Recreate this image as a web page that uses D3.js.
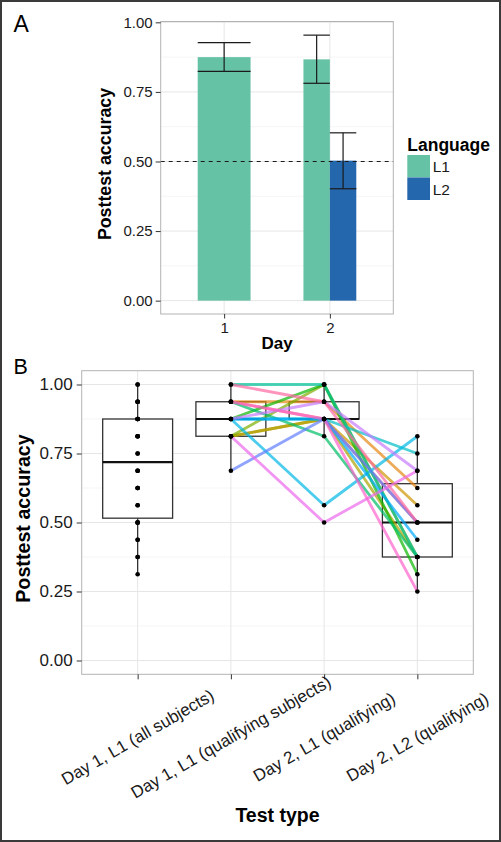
<!DOCTYPE html>
<html>
<head>
<meta charset="utf-8">
<script src="https://cdn.jsdelivr.net/npm/d3@7"></script>
<style>
  html, body { margin: 0; padding: 0; background: #fff; }
  svg { display: block; font-family: "Liberation Sans", Arial, Helvetica, sans-serif; }
</style>
</head>
<body>
<svg id="chart" width="501" height="842"></svg>
<script>
// ---------------- Panel A data ----------------
const days = ["1", "2"];
const languages = ["L1", "L2"];
const languageColors = ["#66C2A5", "#2467AD"];
const barDay = ["1", "2", "2"];
const barLang = ["L1", "L1", "L2"];
const barMean = [0.875, 0.867, 0.503];
const barLow = [0.824, 0.781, 0.402];
const barHigh = [0.927, 0.954, 0.603];
const yTicksA = [0, 0.25, 0.5, 0.75, 1.0];
const yMinorA = [0.125, 0.375, 0.625, 0.875];
const chanceLevel = 0.5;

// ---------------- Panel B data ----------------
const testTypes = [
  "Day 1, L1 (all subjects)",
  "Day 1, L1 (qualifying subjects)",
  "Day 2, L1 (qualifying)",
  "Day 2, L2 (qualifying)"
];
// Day 1 L1 accuracy, all subjects
const allDay1 = [
  0.9375, 0.9375, 0.8125, 0.8125, 0.8125, 0.875, 0.9375, 1.0,
  0.875, 0.875, 0.875, 0.6875, 0.875, 0.8125, 0.9375, 1.0,
  0.75, 0.75, 0.3125, 0.375, 0.375, 0.4375, 0.4375, 0.5, 0.5, 0.5, 0.5,
  0.5625, 0.5625, 0.625, 0.625, 0.625, 0.6875, 0.6875
];
// qualifying subjects (one entry per subject)
const qualDay1   = [0.9375, 0.9375, 0.8125, 0.8125, 0.8125, 0.875, 0.9375, 1.0, 0.875, 0.875, 0.875, 0.6875, 0.875, 0.8125, 0.9375, 1.0];
const qualDay2L1 = [0.875, 0.9375, 0.875, 0.875, 1.0, 1.0, 0.8125, 1.0, 0.875, 0.5625, 0.875, 0.875, 0.9375, 0.5, 0.875, 0.9375];
const qualDay2L2 = [0.5, 0.625, 0.5625, 0.375, 0.375, 0.3125, 0.375, 0.375, 0.75, 0.8125, 0.4375, 0.5, 0.6875, 0.6875, 0.25, 0.5];
const subjectColors = ["#F8766D", "#E68613", "#CD9600", "#ABA300", "#7CAE00", "#0CB702", "#00BE67", "#00C19A",
                       "#00BFC4", "#00B8E7", "#00A9FF", "#5F7DFF", "#C77CFF", "#ED68ED", "#FF61CC", "#FF68A1"];
const yTicksB = [0, 0.25, 0.5, 0.75, 1.0];
const yMinorB = [0.125, 0.375, 0.625, 0.875];

const FONT = '"Liberation Sans", Arial, Helvetica, sans-serif';
const svg = d3.select("#chart");
const fmt = d3.format(".2f");
const TXT = "#1a1a1a";
const GRID_MAJOR = "#e6e6e6";
const GRID_MINOR = "#f5f5f5";
const BORDER = "#b3b3b3";

svg.append("rect").attr("x", 0).attr("y", 0).attr("width", 501).attr("height", 842).attr("fill", "#fff");

// ================= Panel A =================
const pA = { left: 160.7, right: 393.3, top: 21.5, bottom: 314 };
const xA = d3.scalePoint().domain(days).range([pA.left, pA.right]).padding(0.6);
const yA = d3.scaleLinear().domain([-0.048, 1.003]).range([pA.bottom, pA.top]);
const gA = svg.append("g");

gA.selectAll(".minA").data(yMinorA).join("line")
  .attr("x1", pA.left).attr("x2", pA.right).attr("y1", d => yA(d)).attr("y2", d => yA(d))
  .attr("stroke", GRID_MINOR).attr("stroke-width", 1);
gA.selectAll(".majA").data(yTicksA).join("line")
  .attr("x1", pA.left).attr("x2", pA.right).attr("y1", d => yA(d)).attr("y2", d => yA(d))
  .attr("stroke", GRID_MAJOR).attr("stroke-width", 1);
gA.selectAll(".vA").data(days).join("line")
  .attr("x1", d => xA(d)).attr("x2", d => xA(d)).attr("y1", pA.top).attr("y2", pA.bottom)
  .attr("stroke", GRID_MAJOR).attr("stroke-width", 1);

const barWidthA = 0.5 * xA.step();
const bars = barMean.map((m, i) => {
  const sameDay = barDay.filter(d => d === barDay[i]).length;
  const k = barDay.slice(0, i).filter(d => d === barDay[i]).length;
  const w = barWidthA / sameDay;
  const x0 = xA(barDay[i]) - barWidthA / 2 + k * w;
  return { x0, w, mean: m, lo: barLow[i], hi: barHigh[i], lang: barLang[i] };
});
const colA = d3.scaleOrdinal().domain(languages).range(languageColors);

gA.selectAll(".bar").data(bars).join("rect")
  .attr("x", d => d.x0).attr("width", d => d.w)
  .attr("y", d => yA(d.mean)).attr("height", d => yA(0) - yA(d.mean))
  .attr("fill", d => colA(d.lang));

const eb = gA.selectAll(".eb").data(bars).join("g").attr("stroke", "#1a1a1a").attr("stroke-width", 1.2);
eb.append("line").attr("x1", d => d.x0 + d.w / 2).attr("x2", d => d.x0 + d.w / 2)
  .attr("y1", d => yA(d.lo)).attr("y2", d => yA(d.hi));
eb.append("line").attr("x1", d => d.x0).attr("x2", d => d.x0 + d.w)
  .attr("y1", d => yA(d.lo)).attr("y2", d => yA(d.lo));
eb.append("line").attr("x1", d => d.x0).attr("x2", d => d.x0 + d.w)
  .attr("y1", d => yA(d.hi)).attr("y2", d => yA(d.hi));

gA.append("line").attr("x1", pA.left).attr("x2", pA.right)
  .attr("y1", yA(chanceLevel)).attr("y2", yA(chanceLevel))
  .attr("stroke", "#1a1a1a").attr("stroke-width", 1).attr("stroke-dasharray", "4,4");

gA.append("rect").attr("x", pA.left).attr("y", pA.top)
  .attr("width", pA.right - pA.left).attr("height", pA.bottom - pA.top)
  .attr("fill", "none").attr("stroke", BORDER).attr("stroke-width", 1);

const axYA = gA.append("g").attr("transform", `translate(${pA.left},0)`)
  .call(d3.axisLeft(yA).tickValues(yTicksA).tickFormat(fmt).tickSize(5).tickPadding(3))
  .attr("font-family", FONT).attr("font-size", 15);
axYA.select(".domain").remove();
axYA.selectAll(".tick line").attr("stroke", "#333");
axYA.selectAll(".tick text").attr("fill", TXT);

const axXA = gA.append("g").attr("transform", `translate(0,${pA.bottom})`)
  .call(d3.axisBottom(xA).tickSize(4.5).tickPadding(4))
  .attr("font-family", FONT).attr("font-size", 15);
axXA.select(".domain").remove();
axXA.selectAll(".tick line").attr("stroke", "#333");
axXA.selectAll(".tick text").attr("fill", TXT);

gA.append("text").attr("transform", "translate(111.2,164) rotate(-90)")
  .attr("text-anchor", "middle").attr("font-size", 17.8).attr("font-weight", "bold").attr("fill", "#000")
  .text("Posttest accuracy");
gA.append("text").attr("x", (pA.left + pA.right) / 2).attr("y", 349)
  .attr("text-anchor", "middle").attr("font-size", 17).attr("font-weight", "bold").attr("fill", "#000")
  .text("Day");
gA.append("text").attr("x", 13.5).attr("y", 31.7).attr("font-size", 23).attr("fill", "#000").text("A");

// legend
const lg = gA.append("g");
lg.append("text").attr("x", 407.3).attr("y", 150.5).attr("font-size", 17.5).attr("font-weight", "bold")
  .attr("fill", "#000").text("Language");
lg.selectAll(".key").data(languages).join("rect")
  .attr("x", 407.3).attr("y", (d, i) => 155 + i * 22.5).attr("width", 22.7).attr("height", 22.5)
  .attr("fill", d => colA(d));
lg.selectAll(".klab").data(languages).join("text")
  .attr("x", 432.7).attr("y", (d, i) => 172.3 + i * 22.3).attr("font-size", 15.5).attr("fill", TXT)
  .text(d => d);

// ================= Panel B =================
const pB = { left: 81.7, right: 473.3, top: 370.7, bottom: 674.3 };
const xB = d3.scalePoint().domain(testTypes).range([pB.left, pB.right]).padding(0.6);
const yB = d3.scaleLinear().domain([-0.05, 1.05]).range([pB.bottom, pB.top]);
const gB = svg.append("g");

gB.selectAll(".minB").data(yMinorB).join("line")
  .attr("x1", pB.left).attr("x2", pB.right).attr("y1", d => yB(d)).attr("y2", d => yB(d))
  .attr("stroke", GRID_MINOR).attr("stroke-width", 1);
gB.selectAll(".majB").data(yTicksB).join("line")
  .attr("x1", pB.left).attr("x2", pB.right).attr("y1", d => yB(d)).attr("y2", d => yB(d))
  .attr("stroke", GRID_MAJOR).attr("stroke-width", 1);
gB.selectAll(".vB").data(testTypes).join("line")
  .attr("x1", d => xB(d)).attr("x2", d => xB(d)).attr("y1", pB.top).attr("y2", pB.bottom)
  .attr("stroke", GRID_MAJOR).attr("stroke-width", 1);

const groups = [allDay1, qualDay1, qualDay2L1, qualDay2L2];
function boxStats(vals) {
  const s = vals.slice().sort(d3.ascending);
  const q1 = d3.quantile(s, 0.25), med = d3.quantile(s, 0.5), q3 = d3.quantile(s, 0.75);
  const iqr = q3 - q1;
  const lo = d3.min(s.filter(v => v >= q1 - 1.5 * iqr));
  const hi = d3.max(s.filter(v => v <= q3 + 1.5 * iqr));
  return { q1, med, q3, lo, hi };
}
const boxW = 0.75 * xB.step();
const boxes = groups.map((vals, i) => ({ cat: testTypes[i], ...boxStats(vals) }));

const bx = gB.selectAll(".box").data(boxes).join("g");
bx.append("line").attr("x1", d => xB(d.cat)).attr("x2", d => xB(d.cat))
  .attr("y1", d => yB(d.q3)).attr("y2", d => yB(d.hi)).attr("stroke", "#333").attr("stroke-width", 1.3);
bx.append("line").attr("x1", d => xB(d.cat)).attr("x2", d => xB(d.cat))
  .attr("y1", d => yB(d.q1)).attr("y2", d => yB(d.lo)).attr("stroke", "#333").attr("stroke-width", 1.3);
bx.append("rect").attr("x", d => xB(d.cat) - boxW / 2).attr("width", boxW)
  .attr("y", d => yB(d.q3)).attr("height", d => yB(d.q1) - yB(d.q3))
  .attr("fill", "#fff").attr("stroke", "#333").attr("stroke-width", 1.3);
bx.append("line").attr("x1", d => xB(d.cat) - boxW / 2).attr("x2", d => xB(d.cat) + boxW / 2)
  .attr("y1", d => yB(d.med)).attr("y2", d => yB(d.med)).attr("stroke", "#111").attr("stroke-width", 2.2);

// subject lines
const subjects = qualDay1.map((v, i) => ({
  color: subjectColors[i],
  pts: [[testTypes[1], v], [testTypes[2], qualDay2L1[i]], [testTypes[3], qualDay2L2[i]]]
}));
const line = d3.line().x(d => xB(d[0])).y(d => yB(d[1]));
gB.selectAll(".subj").data(subjects).join("path")
  .attr("d", d => line(d.pts)).attr("fill", "none")
  .attr("stroke", d => d.color).attr("stroke-width", 2.8).attr("stroke-opacity", 0.7)
  .attr("stroke-linejoin", "round");

// points
const pts = groups.flatMap((vals, i) => vals.map(v => ({ cat: testTypes[i], v })));
gB.selectAll(".pt").data(pts).join("circle")
  .attr("cx", d => xB(d.cat)).attr("cy", d => yB(d.v)).attr("r", 2.3).attr("fill", "#000");

gB.append("rect").attr("x", pB.left).attr("y", pB.top)
  .attr("width", pB.right - pB.left).attr("height", pB.bottom - pB.top)
  .attr("fill", "none").attr("stroke", BORDER).attr("stroke-width", 1);

const axYB = gB.append("g").attr("transform", `translate(${pB.left},0)`)
  .call(d3.axisLeft(yB).tickValues(yTicksB).tickFormat(fmt).tickSize(5).tickPadding(4))
  .attr("font-family", FONT).attr("font-size", 17);
axYB.select(".domain").remove();
axYB.selectAll(".tick line").attr("stroke", "#333");
axYB.selectAll(".tick text").attr("fill", TXT);

const axXB = gB.append("g").attr("transform", `translate(0,${pB.bottom})`)
  .call(d3.axisBottom(xB).tickSize(5).tickFormat(""));
axXB.select(".domain").remove();
axXB.selectAll(".tick line").attr("stroke", "#333");

gB.selectAll(".xlab").data(testTypes).join("text")
  .attr("transform", d => `translate(${xB(d)},737) rotate(-30)`)
  .attr("text-anchor", "middle").attr("dy", "0.35em")
  .attr("font-size", 17).attr("fill", TXT).text(d => d);

gB.append("text").attr("transform", "translate(30.3,518.5) rotate(-90)")
  .attr("text-anchor", "middle").attr("font-size", 19.7).attr("font-weight", "bold").attr("fill", "#000")
  .text("Posttest accuracy");
gB.append("text").attr("x", (pB.left + pB.right) / 2).attr("y", 821.5)
  .attr("text-anchor", "middle").attr("font-size", 19.5).attr("font-weight", "bold").attr("fill", "#000")
  .text("Test type");
gB.append("text").attr("x", 13.5).attr("y", 374.3).attr("font-size", 21.5).attr("fill", "#000").text("B");

// outer frame
svg.append("rect").attr("x", 1).attr("y", 1).attr("width", 499).attr("height", 840)
  .attr("fill", "none").attr("stroke", "#3a3a3a").attr("stroke-width", 2);
</script>
</body>
</html>
